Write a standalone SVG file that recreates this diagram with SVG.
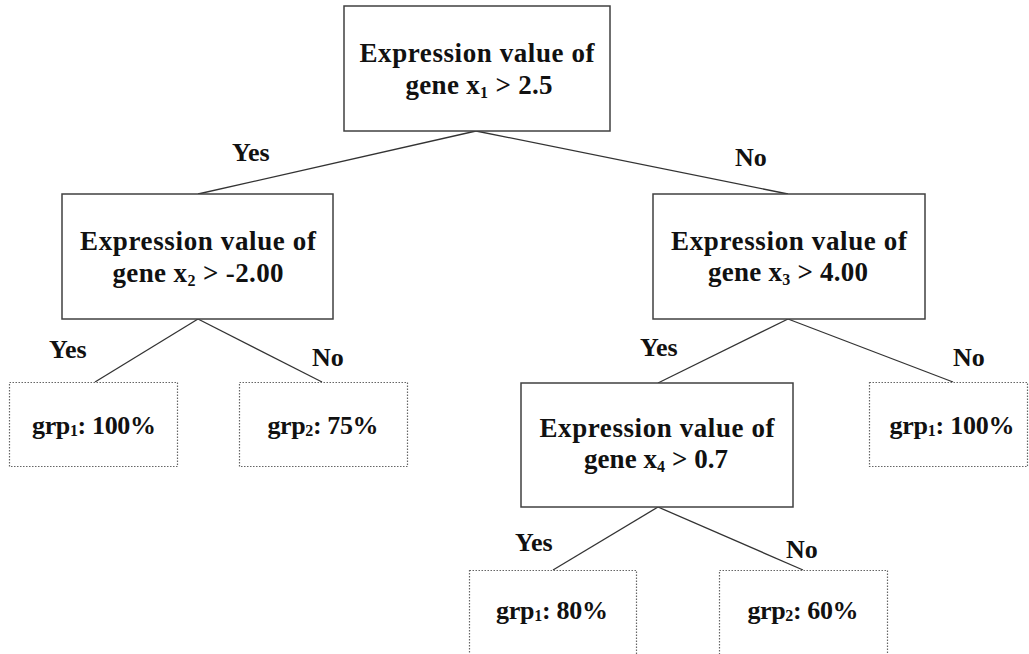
<svg xmlns="http://www.w3.org/2000/svg" width="1029" height="654" viewBox="0 0 1029 654">
<style>
.box{fill:#fff;stroke:#404040;stroke-width:1.5}
.leaf{fill:#fff;stroke:#666;stroke-width:1.2;stroke-dasharray:1.5 1.5}
.t{font-family:"Liberation Serif",serif;font-weight:bold;font-size:27px;fill:#111;text-anchor:middle}
.lf{font-size:26px}
.lbl{font-family:"Liberation Serif",serif;font-weight:bold;font-size:26px;fill:#111}
.sub{font-size:16px}
.edge{stroke:#333;stroke-width:1.3;fill:none}
</style>
<rect width="1029" height="654" fill="#fff"/>
<g id="connectors">
<line class="edge" x1="476" y1="131" x2="198" y2="194"/>
<line class="edge" x1="476" y1="131" x2="788" y2="194"/>
<line class="edge" x1="198" y1="319" x2="95" y2="382"/>
<line class="edge" x1="198" y1="319" x2="322" y2="382"/>
<line class="edge" x1="788" y1="319" x2="658" y2="383"/>
<line class="edge" x1="788" y1="319" x2="953" y2="382"/>
<line class="edge" x1="658" y1="507" x2="553" y2="570"/>
<line class="edge" x1="658" y1="507" x2="803" y2="570"/>
<text class="lbl" x="232" y="161">Yes</text>
<text class="lbl" x="735" y="166">No</text>
<text class="lbl" x="49" y="358">Yes</text>
<text class="lbl" x="312" y="366">No</text>
<text class="lbl" x="640" y="356">Yes</text>
<text class="lbl" x="953" y="366">No</text>
<text class="lbl" x="515" y="551">Yes</text>
<text class="lbl" x="786" y="558">No</text>
</g>
<g id="n1">
<rect class="box" x="344" y="6" width="266" height="125"/>
<text class="t" x="477" y="62" textLength="235">Expression value of</text>
<text class="t" x="479" y="94" textLength="147">gene x<tspan class="sub" dy="4">1</tspan><tspan dy="-4"> &gt; 2.5</tspan></text>
</g>
<g id="n2">
<rect class="box" x="62" y="194" width="271" height="125"/>
<text class="t" x="198" y="250" textLength="236">Expression value of</text>
<text class="t" x="198" y="282" textLength="171">gene x<tspan class="sub" dy="4">2</tspan><tspan dy="-4"> &gt; -2.00</tspan></text>
</g>
<g id="n3">
<rect class="box" x="653" y="194" width="272" height="125"/>
<text class="t" x="789" y="250" textLength="236">Expression value of</text>
<text class="t" x="788" y="281" textLength="160">gene x<tspan class="sub" dy="4">3</tspan><tspan dy="-4"> &gt; 4.00</tspan></text>
</g>
<g id="n4">
<rect class="box" x="521" y="383" width="272" height="124"/>
<text class="t" x="657" y="437" textLength="235">Expression value of</text>
<text class="t" x="656" y="468" textLength="144">gene x<tspan class="sub" dy="4">4</tspan><tspan dy="-4"> &gt; 0.7</tspan></text>
</g>
<g id="leaf1">
<rect class="leaf" x="9.5" y="382.5" width="168" height="84"/>
<text class="t lf" x="94" y="434" textLength="124">grp<tspan class="sub" dy="2">1</tspan><tspan dy="-2">: 100%</tspan></text>
</g>
<g id="leaf2">
<rect class="leaf" x="239.5" y="382.5" width="168" height="84"/>
<text class="t lf" x="323" y="434" textLength="111">grp<tspan class="sub" dy="2">2</tspan><tspan dy="-2">: 75%</tspan></text>
</g>
<g id="leaf3">
<rect class="leaf" x="869.5" y="382.5" width="158" height="84"/>
<text class="t lf" x="952" y="434" textLength="125">grp<tspan class="sub" dy="2">1</tspan><tspan dy="-2">: 100%</tspan></text>
</g>
<g id="leaf4">
<rect class="leaf" x="469.5" y="570.5" width="167" height="84"/>
<text class="t lf" x="552" y="619" textLength="112">grp<tspan class="sub" dy="2">1</tspan><tspan dy="-2">: 80%</tspan></text>
</g>
<g id="leaf5">
<rect class="leaf" x="719.5" y="570.5" width="168" height="84"/>
<text class="t lf" x="803" y="619" textLength="111">grp<tspan class="sub" dy="2">2</tspan><tspan dy="-2">: 60%</tspan></text>
</g>
</svg>
